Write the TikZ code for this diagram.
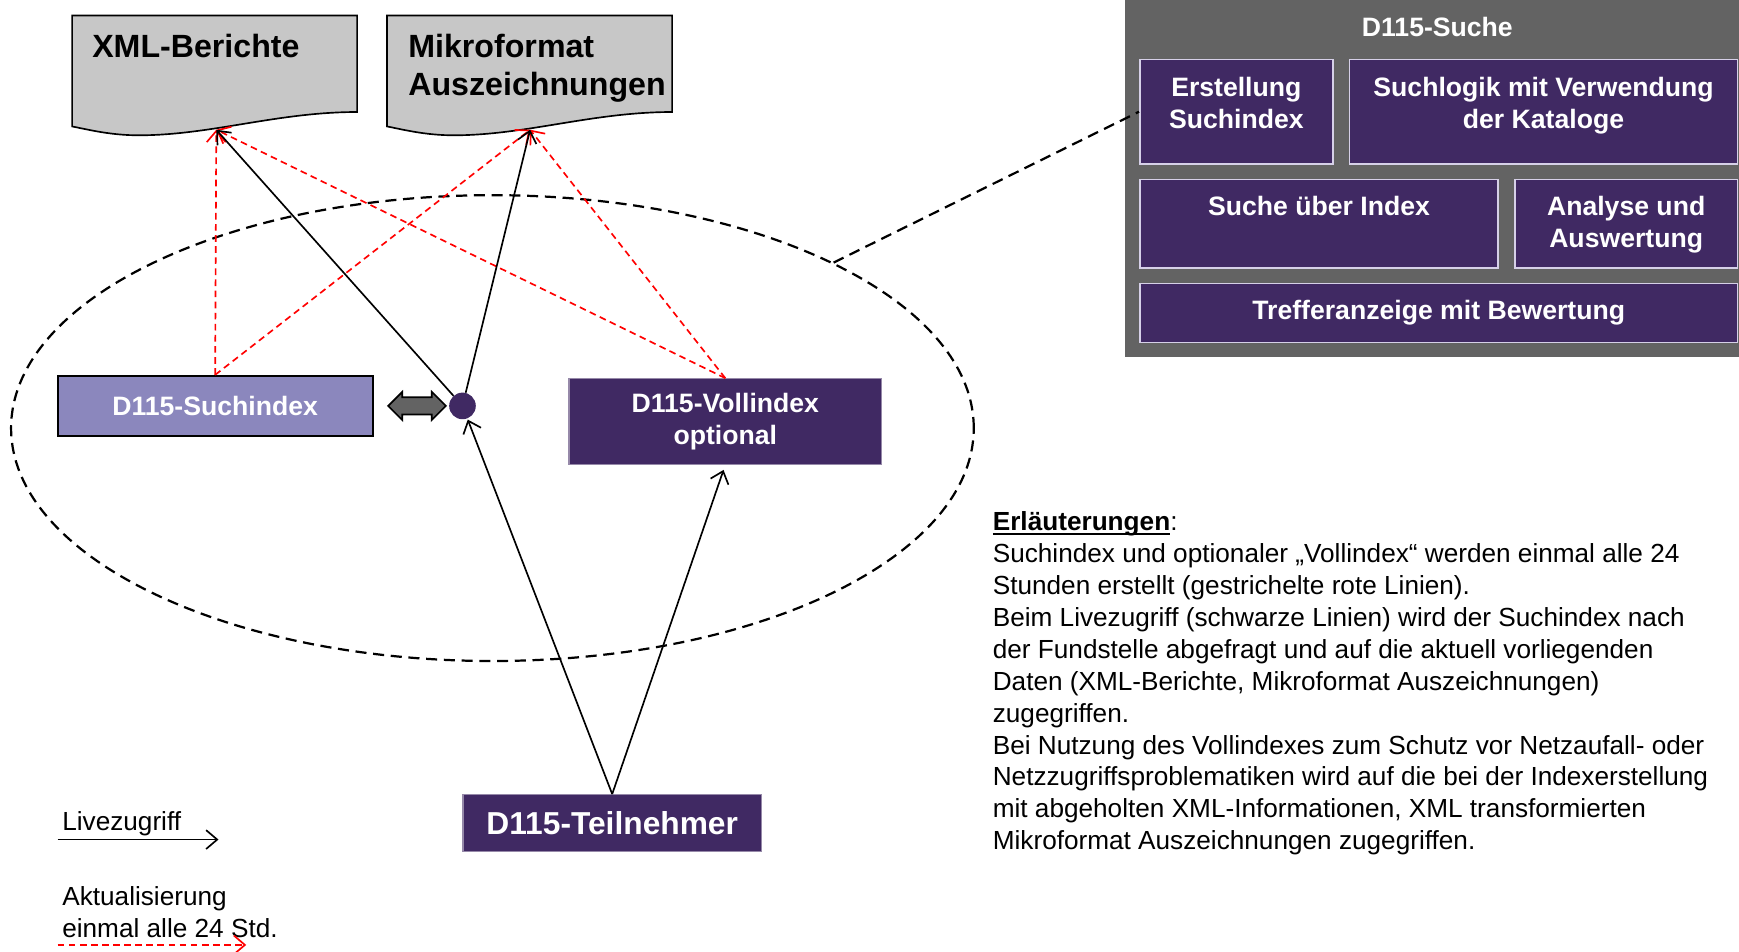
\documentclass[tikz,border=0pt]{standalone}
\usepackage{fontspec}
\setmainfont{Liberation Sans}
\usetikzlibrary{arrows.meta,shapes.geometric,shapes.arrows}

\definecolor{dpurple}{RGB}{64,41,99}
\definecolor{lpurple}{RGB}{139,135,189}
\definecolor{panelgray}{RGB}{99,99,99}
\definecolor{docgray}{RGB}{199,199,199}
\definecolor{boxline}{RGB}{214,208,232}

\newcommand{\ulbold}[1]{\setbox0\hbox{\textbf{#1}}\rlap{\rule[-4pt]{\wd0}{2pt}}\box0}

\tikzset{
  box/.style={fill=dpurple,draw=dpurple!55!white,line width=1pt,text=white,
    font=\fontsize{24}{29}\selectfont\bfseries,align=center,inner sep=0pt},
  subbox/.style={box,draw=boxline,line width=1.5pt,anchor=north west},
  toptext/.style={anchor=north,yshift=-16pt,inner sep=0pt,text=white,
    font=\fontsize{24}{29}\selectfont\bfseries,align=center},
  doctitle/.style={font=\fontsize{29}{34}\selectfont\bfseries,align=left,inner sep=0pt},
  plain/.style={font=\fontsize{23.6}{28.8}\selectfont,align=left,inner sep=0pt},
  live/.style={draw=black,line width=1.5pt,->},
  update/.style={draw=red,line width=1.5pt,dash pattern=on 6pt off 4pt,->},
  docshape/.pic={
    \draw[fill=docgray,line width=1.5pt] (0,0) -- (257,0) -- (257,87)
      .. controls (185,87) and (125,108) .. (60,108)
      .. controls (35,108) and (15,103) .. (0,100) -- cycle;}
}

\begin{document}
\begin{tikzpicture}[x=1pt,y=-1pt,>={Straight Barb[length=10pt,width=17pt]}]
\useasboundingbox (0,0) rectangle (1568,858);

% Datenquellen
\pic at (65,14) {docshape};
\pic at (349,14) {docshape};
\node[doctitle,anchor=base west] (xmltxt) at (83,52) {XML-Berichte};
\node[doctitle,anchor=north west] (mikrotxt) at (368,31) {Mikroformat\\Auszeichnungen};
\coordinate (xmlin) at (195,117);
\coordinate (mikin) at (478,117);

% Bereich
\node[draw,ellipse,line width=2pt,dash pattern=on 10pt off 6pt,
  minimum width=868pt,minimum height=420pt] (bereich) at (444,386) {};

\node[box,fill=lpurple,draw=black,line width=2pt,minimum width=284pt,
  minimum height=54pt] (suchidx) at (194,366) {D115-Suchindex};
\node[double arrow,draw=black,fill=panelgray,line width=1.5pt,inner sep=0pt,
  text height=7pt,text depth=7pt,double arrow head extend=5pt,
  minimum height=52pt] (pfeil) at (376,366) {};
\node[circle,fill=dpurple,inner sep=0pt,minimum size=24pt] (knoten) at (417,366) {};
\node[box,minimum width=282pt,minimum height=77pt] (vollidx) at (654,380) {D115-Vollindex\\optional};
\node[box,font=\fontsize{28.6}{34}\selectfont\bfseries,minimum width=269pt,
  minimum height=51pt] (teiln) at (552,742) {D115-Teilnehmer};

% D115-Suche
\node[fill=panelgray,anchor=north west,inner sep=0pt,minimum width=554pt,
  minimum height=322pt] (suche) at (1014,0) {};
\node[text=white,font=\fontsize{24}{29}\selectfont\bfseries] (suchetitel) at (1296,24) {D115-Suche};
\node[subbox,minimum width=174pt,minimum height=94pt,
  label={[toptext]north:Erstellung\\Suchindex}] (erst) at (1027,53) {};
\node[subbox,minimum width=350pt,minimum height=94pt,
  label={[toptext]north:Suchlogik mit Verwendung\\der Kataloge}] (logik) at (1216,53) {};
\node[subbox,minimum width=323pt,minimum height=80pt,
  label={[toptext]north:Suche über Index}] (suidx) at (1027,161) {};
\node[subbox,minimum width=201pt,minimum height=80pt,
  label={[toptext]north:Analyse und\\Auswertung}] (analyse) at (1365,161) {};
\node[subbox,minimum width=539pt,minimum height=53pt] (treffer) at (1027,255) {Trefferanzeige mit Bewertung};

\draw[line width=2pt,dash pattern=on 10pt off 6pt] (bereich.north east) -- (erst.west);

% Aktualisierung
\draw[update] (suchidx.north) -- (xmlin);
\draw[update] (suchidx.north) -- (mikin);
\draw[update] (vollidx.north) -- (xmlin);
\draw[update] (vollidx.north) -- (mikin);
% Livezugriff
\draw[live] (knoten) -- (xmlin);
\draw[live] (knoten) -- (mikin);
\draw[live,shorten >=1pt] (teiln.north) -- (knoten);
\draw[live,shorten >=5pt] (teiln.north) -- (vollidx.south);

% Legende
\node[plain,anchor=base west] (livetxt) at (56,749) {Livezugriff};
\coordinate (liveA) at (52,757);
\coordinate (liveB) at (197,757);
\draw[live] (liveA) -- (liveB);
\node[plain,anchor=north west] (updtxt) at (56,799) {Aktualisierung\\einmal alle 24 Std.};
\coordinate (updA) at (52,852);
\coordinate (updB) at (222,852);
\draw[update] (updA) -- (updB);

% Erläuterungen
\node[plain,anchor=north west] (notes) at (895,461) {\ulbold{Erläuterungen}:\\
Suchindex und optionaler „Vollindex“ werden einmal alle 24\\
Stunden erstellt (gestrichelte rote Linien).\\
Beim Livezugriff (schwarze Linien) wird der Suchindex nach\\
der Fundstelle abgefragt und auf die aktuell vorliegenden\\
Daten (XML-Berichte, Mikroformat Auszeichnungen)\\
zugegriffen.\\
Bei Nutzung des Vollindexes zum Schutz vor Netzaufall- oder\\
Netzzugriffsproblematiken wird auf die bei der Indexerstellung\\
mit abgeholten XML-Informationen, XML transformierten\\
Mikroformat Auszeichnungen zugegriffen.};
\end{tikzpicture}
\end{document}
